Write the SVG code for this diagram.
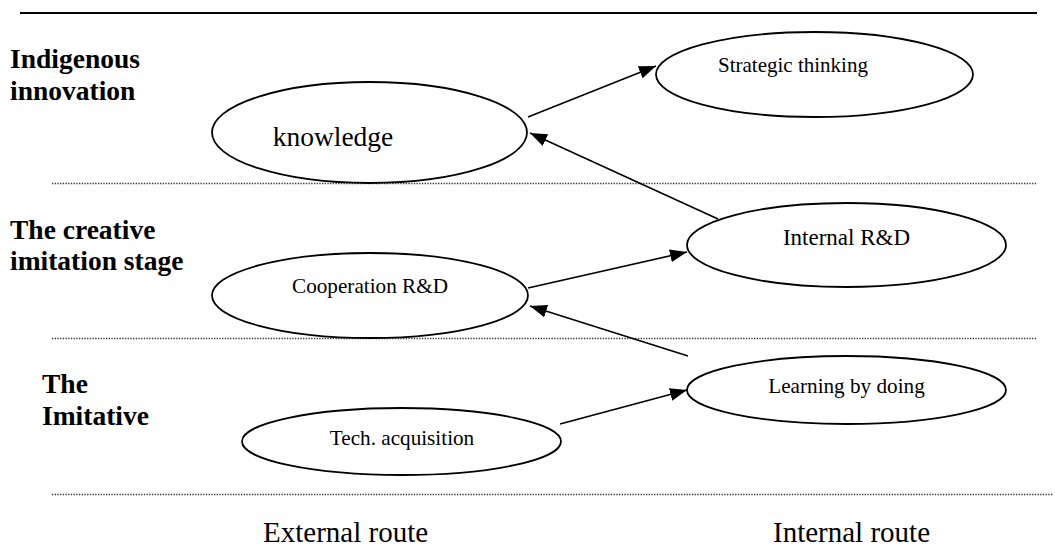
<svg xmlns="http://www.w3.org/2000/svg" width="1055" height="550" viewBox="0 0 1055 550">
  <style>
    .stage { font-family: "Liberation Serif", "Times New Roman", serif; font-weight: bold; font-size: 27.5px; fill: #000; }
    .route { font-family: "Liberation Serif", "Times New Roman", serif; font-size: 29px; fill: #000; }
    .node ellipse { fill: #fff; stroke: #000; stroke-width: 1.8; }
    .node text { font-family: "Liberation Serif", "Times New Roman", serif; fill: #000; text-anchor: middle; }
    .rule { stroke: #000; stroke-width: 2; }
    .divider { stroke: #333; stroke-width: 1.3; stroke-dasharray: 1.3 1.4; fill: none; }
    .edge { stroke: #000; stroke-width: 1.6; fill: none; marker-end: url(#arrow); }
  </style>
  <defs>
    <marker id="arrow" markerUnits="userSpaceOnUse" markerWidth="18" markerHeight="14" refX="17" refY="6.5" orient="auto">
      <path d="M0,0 L17,6.5 L0,13 z" fill="#000"/>
    </marker>
  </defs>

  <rect width="1055" height="550" fill="#fff"/>

  <!-- frame rules -->
  <line class="rule" x1="20" y1="13" x2="1037" y2="13"/>
  <line class="divider" x1="52" y1="183.5" x2="1037" y2="183.5"/>
  <line class="divider" x1="52" y1="338.5" x2="1037" y2="338.5"/>
  <line class="divider" x1="52" y1="494.5" x2="1053" y2="494.5"/>

  <!-- stage labels -->
  <g id="stage-indigenous">
    <text class="stage" x="10" y="68">Indigenous</text>
    <text class="stage" x="10" y="100">innovation</text>
  </g>
  <g id="stage-creative">
    <text class="stage" x="10" y="239">The creative</text>
    <text class="stage" x="10" y="270">imitation stage</text>
  </g>
  <g id="stage-imitative">
    <text class="stage" x="42" y="393">The</text>
    <text class="stage" x="42" y="425">Imitative</text>
  </g>

  <!-- route labels -->
  <text class="route" x="263" y="542">External route</text>
  <text class="route" x="773" y="542">Internal route</text>

  <!-- connectors -->
  <g id="connectors">
    <line class="edge" x1="528" y1="117" x2="656" y2="66"/>
    <line class="edge" x1="718" y1="219" x2="530" y2="133"/>
    <line class="edge" x1="528" y1="288" x2="687" y2="252"/>
    <line class="edge" x1="688" y1="356" x2="530" y2="306"/>
    <line class="edge" x1="560" y1="424" x2="687" y2="390"/>
  </g>

  <!-- nodes -->
  <g id="node-knowledge" class="node">
    <ellipse cx="369.5" cy="132.5" rx="157.5" ry="50.5"/>
    <text x="333" y="146" font-size="27.5">knowledge</text>
  </g>
  <g id="node-strategic" class="node">
    <ellipse cx="814.5" cy="74.5" rx="158.5" ry="42.5"/>
    <text x="793" y="72" font-size="21">Strategic thinking</text>
  </g>
  <g id="node-internal-rd" class="node">
    <ellipse cx="846.5" cy="245" rx="159.5" ry="42"/>
    <text x="846.5" y="245" font-size="23">Internal R&amp;D</text>
  </g>
  <g id="node-cooperation-rd" class="node">
    <ellipse cx="370" cy="295.5" rx="158" ry="42.5"/>
    <text x="370" y="293" font-size="21.2">Cooperation R&amp;D</text>
  </g>
  <g id="node-learning" class="node">
    <ellipse cx="846.5" cy="390" rx="159.5" ry="34"/>
    <text x="846.5" y="393" font-size="21.2">Learning by doing</text>
  </g>
  <g id="node-tech" class="node">
    <ellipse cx="401.5" cy="441.5" rx="159.5" ry="33.5"/>
    <text x="402" y="445" font-size="21.2">Tech. acquisition</text>
  </g>
</svg>
